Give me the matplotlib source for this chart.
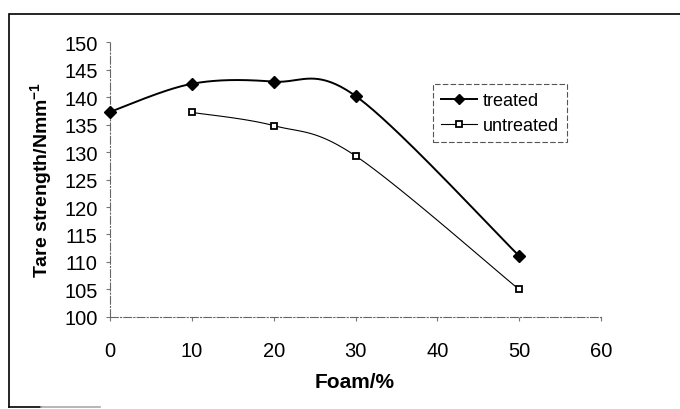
import numpy as np
import matplotlib
matplotlib.use("Agg")
import matplotlib.pyplot as plt
from matplotlib.lines import Line2D

# Tear strength (N/mm) against foam content (%)
foam_treated = [0, 10, 20, 30, 50]
strength_treated = [137.3, 142.4, 142.8, 140.2, 111.1]
foam_untreated = [10, 20, 30, 50]
strength_untreated = [137.2, 134.8, 129.3, 105.0]

x_ticks = [0, 10, 20, 30, 40, 50, 60]
y_ticks = [100, 105, 110, 115, 120, 125, 130, 135, 140, 145, 150]

plt.rcParams['font.family'] = ['Liberation Sans', 'DejaVu Sans']
plt.rcParams['mathtext.fontset'] = 'custom'
plt.rcParams['mathtext.bf'] = 'Liberation Sans:bold'
plt.rcParams['mathtext.rm'] = 'Liberation Sans:bold'


def smooth_curve(xs, ys, n=40):
    """Piecewise cubic Bezier through the points (spreadsheet-style smoothing)."""
    p = np.column_stack([xs, ys]).astype(float)
    m = len(p)
    out = [p[0:1]]
    t = np.linspace(0, 1, n)[1:, None]
    for i in range(m - 1):
        p_prev = p[i - 1] if i > 0 else p[i]
        p_next2 = p[i + 2] if i + 2 < m else p[i + 1]
        c1 = p[i] + (p[i + 1] - p_prev) / 6.0
        c2 = p[i + 1] - (p_next2 - p[i]) / 6.0
        seg = ((1 - t) ** 3) * p[i] + 3 * ((1 - t) ** 2) * t * c1 \
            + 3 * (1 - t) * t ** 2 * c2 + t ** 3 * p[i + 1]
        out.append(seg)
    c = np.vstack(out)
    return c[:, 0], c[:, 1]


fig = plt.figure(figsize=(6.8, 4.1), dpi=100)
ax = fig.add_axes([0.1618, 0.2244, 0.722, 0.6707])

tx, ty = smooth_curve(foam_treated, strength_treated)
ux, uy = smooth_curve(foam_untreated, strength_untreated)

ax.plot(tx, ty, color='black', lw=1.4, clip_on=False, zorder=3)
ax.plot(foam_treated, strength_treated, ls='none', marker='D', ms=6,
        color='black', clip_on=False, zorder=4)
ax.plot(ux, uy, color='black', lw=0.8, clip_on=False, zorder=3)
ax.plot(foam_untreated, strength_untreated, ls='none', marker='s', ms=5,
        mfc='white', mec='black', mew=1.3, clip_on=False, zorder=4)

ax.set_xlim(0, 60)
ax.set_ylim(100, 150)
ax.set_xticks(x_ticks)
ax.set_yticks(y_ticks)
ax.tick_params(axis='both', labelsize=14.5, color='#777777', length=3, width=0.8)
ax.tick_params(axis='y', pad=6)
ax.tick_params(axis='x', pad=14)

for side in ('top', 'right'):
    ax.spines[side].set_visible(False)
for side in ('left', 'bottom'):
    ax.spines[side].set_color('#666666')
    ax.spines[side].set_linewidth(0.8)
    ax.spines[side].set_linestyle((0, (7, 2, 1, 2)))

fig.text(0.522, 0.066, 'Foam/%', fontsize=15, fontweight='bold',
         ha='center', va='center')
fig.text(0.062, 0.56, r'Tare strength/Nmm$^{\mathbf{-1}}$', fontsize=14,
         fontweight='bold', rotation=90, ha='center', va='center')

handles = [
    Line2D([], [], color='black', lw=1.4, marker='D', ms=5.5),
    Line2D([], [], color='black', lw=0.8, marker='s', ms=4.5, mfc='white',
           mec='black', mew=1.3),
]
leg = ax.legend(handles, ['treated', 'untreated'], loc='upper left',
                bbox_to_anchor=(0.658, 0.847), borderaxespad=0,
                fontsize=13, handlelength=2.0, handletextpad=0.3,
                labelspacing=0.45, borderpad=0.45, fancybox=False,
                framealpha=1)
frame = leg.get_frame()
frame.set_edgecolor('#555555')
frame.set_linewidth(0.8)
frame.set_linestyle((0, (5, 2)))

# outer border of the chart area
fig.add_artist(Line2D([0.014, 1.0], [0.963, 0.963], transform=fig.transFigure,
                      color='black', lw=1.2))
fig.add_artist(Line2D([0.013, 0.013], [0.963, 0.005], transform=fig.transFigure,
                      color='black', lw=1.2))
fig.add_artist(Line2D([0.013, 0.06], [0.005, 0.005], transform=fig.transFigure,
                      color='black', lw=1.2))
fig.add_artist(Line2D([0.06, 0.147], [0.005, 0.005], transform=fig.transFigure,
                      color='#aaaaaa', lw=1.2))

fig.savefig('out.png', dpi=100)
